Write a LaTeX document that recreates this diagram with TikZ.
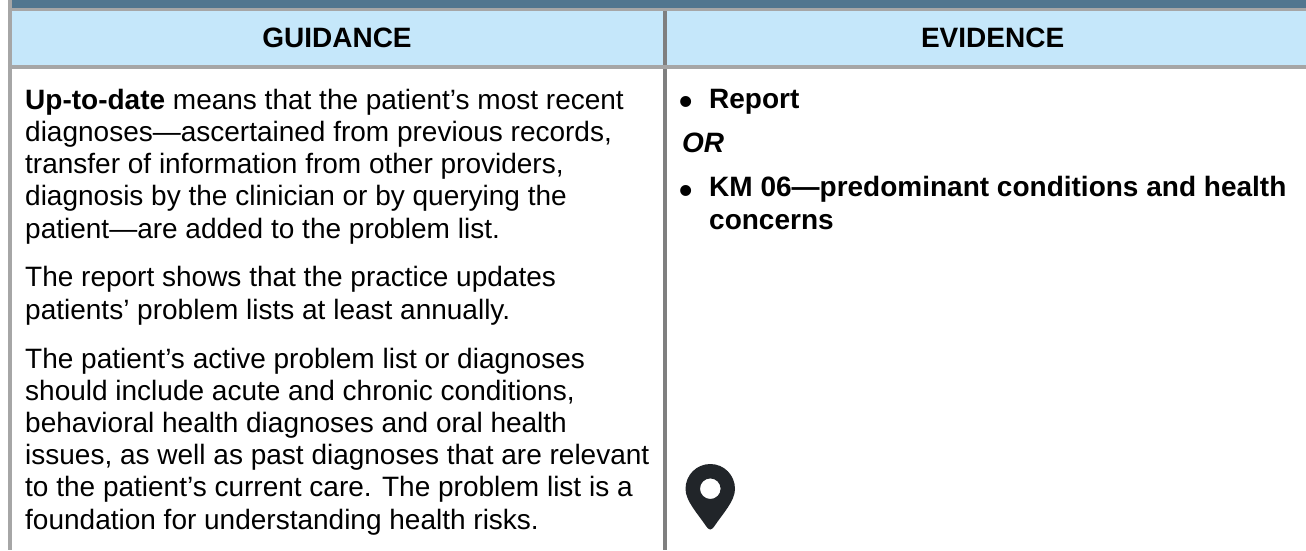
\documentclass[tikz,border=0pt]{standalone}
\usepackage{fontspec}
\setmainfont{Liberation Sans}
\definecolor{bandblue}{HTML}{51768F}
\definecolor{headblue}{HTML}{C5E7FA}
\definecolor{rulegray}{HTML}{A6A6A6}
\definecolor{divgray}{HTML}{7F7F7F}
\definecolor{pinblack}{HTML}{212529}
\tikzset{
  headtext/.style={font=\fontsize{28}{32}\selectfont\bfseries,anchor=base,inner sep=0pt},
  para/.style={font=\fontsize{28}{32.2}\selectfont,anchor=base west,align=left,inner sep=0pt},
  evid/.style={font=\fontsize{28}{32.2}\selectfont\bfseries,anchor=base west,align=left,inner sep=0pt},
  bul/.style={font=\fontsize{38}{38}\selectfont\bfseries,anchor=base west,inner sep=0pt}
}
\begin{document}
\begin{tikzpicture}[x=1pt,y=-1pt]
\useasboundingbox (0,0) rectangle (1306,550);
\fill[white] (0,0) rectangle (1306,550);
\fill[bandblue] (12,0) rectangle (1306,8);
\fill[rulegray] (8,8) rectangle (1306,11);
\fill[headblue] (12,11) rectangle (1306,65);
\fill[divgray] (663,11) rectangle (667,65);
\fill[rulegray] (8,65) rectangle (1306,69);
\fill[rulegray] (8,0) rectangle (12,550);
\fill[divgray] (663,69) rectangle (667,550);
\node[headtext] (h1) at (337,47) {GUIDANCE};
\node[headtext] (h2) at (992.6,47) {EVIDENCE};
\node[para] (p1) at (25,238) {\textbf{Up-to-date} means that the patient’s most recent\\diagnoses—ascertained from previous records,\\transfer of information from other providers,\\diagnosis by the clinician or by querying the\\patient—are added to the problem list.};
\node[para] (p2) at (25,319) {The report shows that the practice updates\\patients’ problem lists at least annually.};
\node[para] (p3) at (25,529) {The patient’s active problem list or diagnoses\\should include acute and chronic conditions,\\behavioral health diagnoses and oral health\\issues, as well as past diagnoses that are relevant\\to the patient’s current care. The problem list is a\\foundation for understanding health risks.};
\node[bul] (b1) at (679,114) {•};
\node[evid] (e1) at (709,108) {Report};
\node[evid] (e2) at (682,152) {\itshape OR};
\node[bul] (b2) at (679,203) {•};
\node[evid] (e3) at (709,229) {KM 06—predominant conditions and health\\concerns};
\fill[pinblack,even odd rule] (710.3,529.5) .. controls (708.5,529.5) and (707.5,528) .. (706,526) .. controls (698,514) and (685.5,501) .. (685.5,489) .. controls (685.5,475) and (696.5,464) .. (710.3,464) .. controls (724,464) and (735,475) .. (735,489) .. controls (735,501) and (722.5,514) .. (714.5,526) .. controls (713,528) and (712,529.5) .. (710.3,529.5) -- cycle (720.6,488.7) arc[start angle=0,end angle=360,radius=10.3];
\end{tikzpicture}
\end{document}
